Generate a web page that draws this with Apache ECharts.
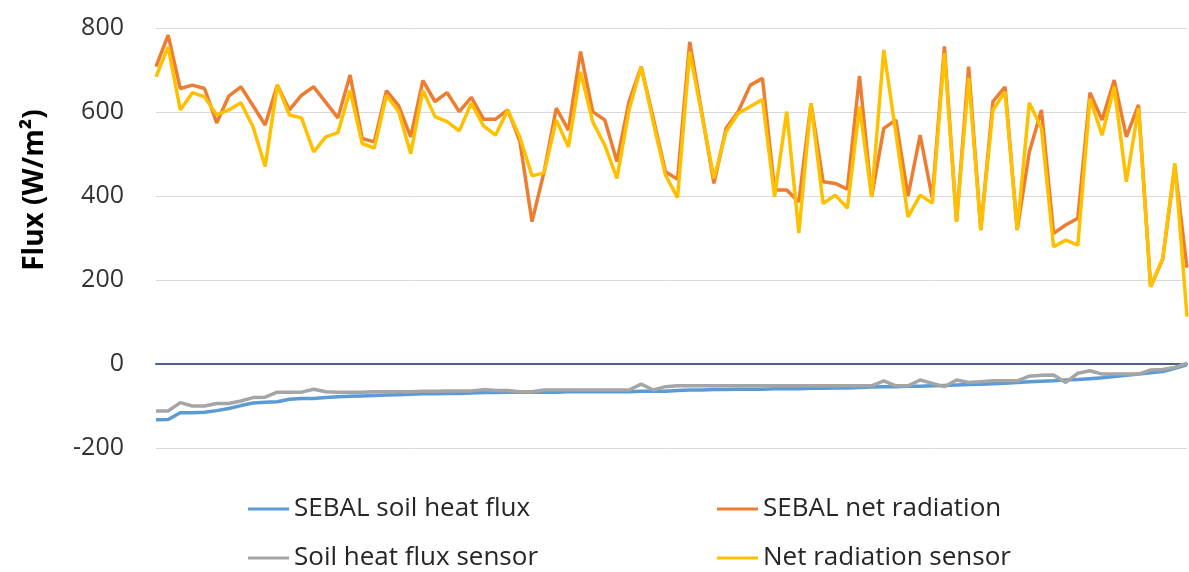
<!DOCTYPE html>
<html>
<head>
<meta charset="utf-8">
<script src="https://cdn.jsdelivr.net/npm/echarts@6/dist/echarts.min.js"></script>
<style>
  html, body { margin: 0; padding: 0; background: #fff; }
  #flux-chart { width: 1189px; height: 572px; }
</style>
</head>
<body>
<div id="flux-chart"></div>
<script>
// observations (one per image date), in the order they were plotted
const days = Array.from({ length: 86 }, (_, i) => String(i + 1));

const sebalSoilHeat = [
  -133, -132, -116, -116, -115, -111, -106, -99, -93, -91,
  -90, -84, -82, -82, -80, -78, -77, -76, -75, -74,
  -73, -72, -71, -71, -70, -70, -69, -68, -68, -67,
  -67, -67, -67, -67, -66, -66, -66, -66, -66, -66,
  -65, -65, -65, -63, -62, -62, -61, -61, -60, -60,
  -60, -59, -59, -59, -58, -58, -57, -57, -56, -55,
  -54, -54, -53, -53, -52, -51, -50, -49, -48, -47,
  -46, -44, -42, -41, -40, -38, -37, -35, -33, -30,
  -27, -24, -21, -18, -10, -2
];

const sebalNetRad = [
  708, 783, 656, 664, 656, 574, 638, 660, 615, 569,
  664, 605, 640, 660, 623, 586, 688, 537, 529, 651,
  615, 541, 675, 625, 646, 601, 635, 583, 583, 605,
  530, 339, 458, 609, 557, 744, 601, 581, 482, 625,
  708, 585, 458, 440, 767, 598, 430, 561, 601, 664,
  680, 414, 414, 386, 621, 434, 430, 416, 686, 398,
  561, 581, 400, 545, 395, 756, 339, 708, 319, 625,
  660, 319, 505, 605, 311, 331, 347, 646, 581, 676,
  541, 617, 184, 250, 470, 229
];

const soilSensor = [
  -112, -112, -92, -100, -100, -94, -94, -88, -80, -79,
  -67, -67, -67, -60, -66, -67, -67, -67, -66, -66,
  -66, -66, -65, -65, -64, -64, -64, -61, -63, -63,
  -66, -66, -62, -62, -62, -62, -62, -62, -62, -62,
  -48, -62, -54, -52, -52, -52, -52, -52, -52, -52,
  -52, -52, -52, -52, -52, -52, -52, -52, -52, -52,
  -40, -52, -52, -38, -46, -54, -38, -44, -42, -40,
  -40, -40, -29, -27, -26, -44, -22, -16, -24, -24,
  -24, -24, -14, -13, -8, 2
];

const netSensor = [
  684, 755, 605, 646, 636, 593, 605, 622, 565, 470,
  664, 593, 586, 505, 541, 551, 652, 525, 514, 640,
  601, 501, 652, 589, 577, 555, 621, 567, 545, 605,
  540, 448, 455, 581, 517, 696, 577, 521, 442, 605,
  708, 575, 450, 396, 744, 593, 442, 553, 597, 613,
  630, 398, 601, 312, 621, 382, 402, 371, 613, 398,
  748, 549, 350, 402, 383, 740, 339, 681, 319, 605,
  648, 319, 622, 561, 279, 295, 283, 632, 545, 660,
  434, 609, 184, 252, 478, 113
];

const yTicks = { min: -200, max: 800, step: 200 };

const FONT = "'Open Sans', 'DejaVu Sans', sans-serif";

// one legend per entry so the 2x2 layout of the original can be kept
function legendAt(name, left, top) {
  return {
    left: left,
    top: top,
    itemWidth: 41,
    itemHeight: 3,
    icon: "rect",
    textStyle: {
      fontFamily: FONT,
      fontSize: 26,
      color: "#262626",
    },
    data: [name],
  };
}

const option = {
  animation: false,
  backgroundColor: "#fff",
  grid: {
    left: 156,
    right: 2,
    top: 28,
    bottom: 124,
  },
  legend: [
    legendAt("SEBAL soil heat flux", 243, 491),
    legendAt("Soil heat flux sensor", 243, 540),
    legendAt("SEBAL net radiation", 712, 491),
    legendAt("Net radiation sensor", 712, 540),
  ],
  xAxis: {
    type: "category",
    boundaryGap: false,
    data: days,
    axisTick: { show: false },
    axisLabel: { show: false },
    axisLine: {
      lineStyle: { color: "#4E5F8C", width: 2 },
    },
  },
  yAxis: {
    type: "value",
    min: yTicks.min,
    max: yTicks.max,
    interval: yTicks.step,
    axisLine: { show: false },
    axisTick: { show: false },
    axisLabel: {
      margin: 32,
      fontFamily: FONT,
      fontSize: 25,
      color: "#333333",
    },
    splitLine: {
      lineStyle: { color: "#D9D9D9", width: 1 },
    },
  },
  graphic: [
    {
      type: "text",
      x: 35,
      y: 190,
      rotation: Math.PI / 2,
      style: {
        text: "Flux (W/m²)",
        align: "center",
        verticalAlign: "middle",
        font: "bold 28px " + FONT,
        fill: "#000",
      },
    },
  ],
  series: [
    {
      name: "SEBAL soil heat flux",
      type: "line",
      data: sebalSoilHeat,
      symbol: "none",
      color: "#5B9BD5",
      lineStyle: { width: 3.5 },
    },
    {
      name: "SEBAL net radiation",
      type: "line",
      data: sebalNetRad,
      symbol: "none",
      color: "#ED7D31",
      lineStyle: { width: 3.5 },
    },
    {
      name: "Soil heat flux sensor",
      type: "line",
      data: soilSensor,
      symbol: "none",
      color: "#A5A5A5",
      lineStyle: { width: 3.5 },
    },
    {
      name: "Net radiation sensor",
      type: "line",
      data: netSensor,
      symbol: "none",
      color: "#FFC000",
      lineStyle: { width: 3.5 },
    },
  ],
};

const myChart = echarts.init(document.getElementById("flux-chart"));
myChart.setOption(option);
</script>
</body>
</html>
